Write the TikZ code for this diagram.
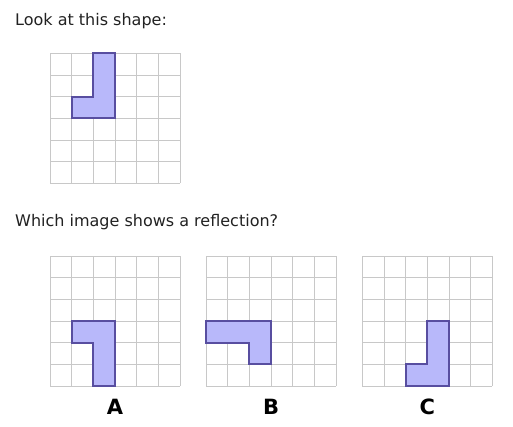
\documentclass[tikz,border=0pt]{standalone}
\usepackage{fontspec}
\setmainfont{DejaVu Sans}
\definecolor{gridc}{RGB}{200,200,200}
\definecolor{shapefill}{RGB}{184,184,250}
\definecolor{shapeedge}{RGB}{88,78,160}
\definecolor{txt}{RGB}{34,34,34}
\begin{document}
\begin{tikzpicture}[x=1pt,y=-1pt,
  gridlines/.style={draw=gridc,line width=0.9pt},
  shapepoly/.style={fill=shapefill,draw=shapeedge,line width=1.8pt,line join=miter},
  prompt/.style={anchor=base west,inner sep=0pt,font=\fontsize{16}{19}\selectfont,text=txt},
  optlabel/.style={anchor=base,inner sep=0pt,font=\fontsize{21}{24}\selectfont\bfseries}]
\useasboundingbox (0,0) rectangle (513,427);
\fill[white] (0,0) rectangle (513,427);
\def\cs{21.667}
% prompts
\node[prompt] (q1) at (15,25.5) {Look at this shape:};
\node[prompt] (q2) at (15,226.5) {Which image shows a reflection?};
% top grid
\begin{scope}[shift={(50,53.3)}]
  \foreach \i in {0,...,6} {
    \draw[gridlines] (\i*\cs,0) -- (\i*\cs,6*\cs);
    \draw[gridlines] (0,\i*\cs) -- (6*\cs,\i*\cs);
  }
  \draw[shapepoly] (2*\cs,0) -- (3*\cs,0) -- (3*\cs,3*\cs) -- (1*\cs,3*\cs) -- (1*\cs,2*\cs) -- (2*\cs,2*\cs) -- cycle;
\end{scope}
% grid A
\begin{scope}[shift={(50,256)}]
  \foreach \i in {0,...,6} {
    \draw[gridlines] (\i*\cs,0) -- (\i*\cs,6*\cs);
    \draw[gridlines] (0,\i*\cs) -- (6*\cs,\i*\cs);
  }
  \draw[shapepoly] (1*\cs,3*\cs) -- (3*\cs,3*\cs) -- (3*\cs,6*\cs) -- (2*\cs,6*\cs) -- (2*\cs,4*\cs) -- (1*\cs,4*\cs) -- cycle;
\end{scope}
% grid B
\begin{scope}[shift={(206,256)}]
  \foreach \i in {0,...,6} {
    \draw[gridlines] (\i*\cs,0) -- (\i*\cs,6*\cs);
    \draw[gridlines] (0,\i*\cs) -- (6*\cs,\i*\cs);
  }
  \draw[shapepoly] (0,3*\cs) -- (3*\cs,3*\cs) -- (3*\cs,5*\cs) -- (2*\cs,5*\cs) -- (2*\cs,4*\cs) -- (0,4*\cs) -- cycle;
\end{scope}
% grid C
\begin{scope}[shift={(362.3,256)}]
  \foreach \i in {0,...,6} {
    \draw[gridlines] (\i*\cs,0) -- (\i*\cs,6*\cs);
    \draw[gridlines] (0,\i*\cs) -- (6*\cs,\i*\cs);
  }
  \draw[shapepoly] (3*\cs,3*\cs) -- (4*\cs,3*\cs) -- (4*\cs,6*\cs) -- (2*\cs,6*\cs) -- (2*\cs,5*\cs) -- (3*\cs,5*\cs) -- cycle;
\end{scope}
% labels
\node[optlabel] (la) at (115,414.5) {A};
\node[optlabel] (lb) at (271,414.5) {B};
\node[optlabel] (lc) at (427.3,414.5) {C};
\end{tikzpicture}
\end{document}
